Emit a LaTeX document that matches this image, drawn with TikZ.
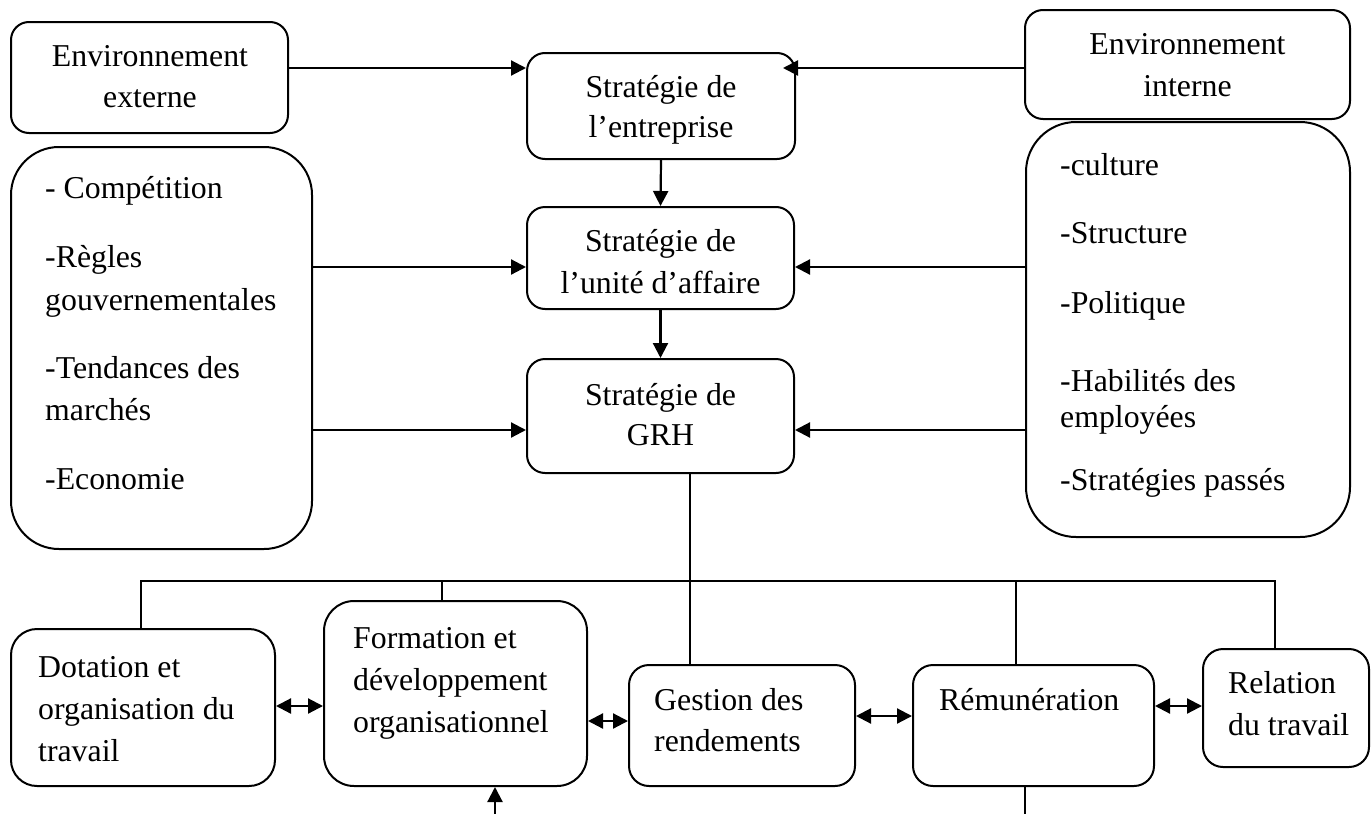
\documentclass[tikz,border=0pt]{standalone}
\usepackage{fontspec}
\setmainfont{Liberation Serif}
\usetikzlibrary{arrows.meta,calc}
\begin{document}
\begin{tikzpicture}[x=1pt,y=-1pt,
  box/.style={draw, line width=2pt, inner sep=0pt, rounded corners=#1},
  box/.default=18pt,
  lbl/.style={inner sep=0pt, font=\fontsize{31.8pt}{41pt}\selectfont},
  lw/.style={lbl, anchor=base west},
  lc/.style={lbl, anchor=base},
  arr/.style={line width=2.2pt, -{Triangle[length=15pt,width=15pt]}},
  link/.style={line width=1.8pt},
  twoway/.style={line width=2.2pt, {Triangle[length=15pt,width=15pt]}-{Triangle[length=15pt,width=15pt]}},
]
\fill[white] (0,0) rectangle (1371,814);
\useasboundingbox (0,0) rectangle (1371,814);

% --- strategy column and its environments
\node[box, minimum width=277pt, minimum height=111pt] (ext) at (149.5,77.5) {};
\node[box, minimum width=268pt, minimum height=106pt] (ent) at (661,106) {};
\node[box, minimum width=325pt, minimum height=109pt] (intEnv) at (1187.5,64.5) {};
\node[box=48pt, minimum width=301pt, minimum height=402pt] (leftList) at (161.5,348) {};
\node[box=50pt, minimum width=324pt, minimum height=415pt] (rightList) at (1188,329.5) {};
\node[box, minimum width=267pt, minimum height=102pt] (unit) at (660.5,258) {};
\node[box, minimum width=267pt, minimum height=114pt] (grh) at (660.5,416) {};

% --- HR activities
\node[box=26pt, minimum width=264pt, minimum height=157pt] (dot) at (143,707.5) {};
\node[box=30pt, minimum width=263pt, minimum height=185pt] (form) at (455.5,693.5) {};
\node[box=20pt, minimum width=226pt, minimum height=121pt] (gest) at (742,725.5) {};
\node[box=20pt, minimum width=241pt, minimum height=121pt] (rem) at (1033.5,725.5) {};
\node[box=20pt, minimum width=166pt, minimum height=118pt] (rel) at (1286,708) {};

% --- labels
\node[lc] (tExtA) at (150,66) {Environnement};
\node[lc] (tExtB) at (150,107) {externe};
\node[lc] (tEntA) at (661,97) {Stratégie de};
\node[lc] (tEntB) at (661,137) {l’entreprise};
\node[lc] (tIntA) at (1187.5,54) {Environnement};
\node[lc] (tIntB) at (1187.5,96) {interne};
\node[lc] (tUnitA) at (660.5,251) {Stratégie de};
\node[lc] (tUnitB) at (660.5,293) {l’unité d’affaire};
\node[lc] (tGrhA) at (660.5,405) {Stratégie de};
\node[lc] (tGrhB) at (660.5,445) {GRH};

\node[lw] (tL1) at (45,198) {- Compétition};
\node[lw] (tL2) at (45,267) {-Règles};
\node[lw] (tL3) at (45,310) {gouvernementales};
\node[lw] (tL4) at (45,378) {-Tendances des};
\node[lw] (tL5) at (45,420) {marchés};
\node[lw] (tL6) at (45,489) {-Economie};

\node[lw] (tR1) at (1060,175) {-culture};
\node[lw] (tR2) at (1060,243) {-Structure};
\node[lw] (tR3) at (1060,313) {-Politique};
\node[lw] (tR4) at (1060,391) {-Habilités des};
\node[lw] (tR5) at (1060,427) {employées};
\node[lw] (tR6) at (1060,490) {-Stratégies passés};

\node[lw] (tDotA) at (38,677) {Dotation et};
\node[lw] (tDotB) at (38,719) {organisation du};
\node[lw] (tDotC) at (38,761) {travail};
\node[lw] (tFormA) at (353,648) {Formation et};
\node[lw] (tFormB) at (353,690) {développement};
\node[lw] (tFormC) at (353,732) {organisationnel};
\node[lw] (tGestA) at (654,710) {Gestion des};
\node[lw] (tGestB) at (654,751) {rendements};
\node[lw] (tRem) at (939,710) {Rémunération};
\node[lw] (tRelA) at (1228,693) {Relation};
\node[lw] (tRelB) at (1228,735) {du travail};

% --- arrows into the strategy column
\coordinate (yA) at (0,68);
\coordinate (yB) at (0,267);
\coordinate (yC) at (0,430);
\draw[arr] (ext.east |- yA) -- (ent.west |- yA);
\draw[arr] (intEnv.west |- yA) -- ($(ent.east |- yA)+(-13,0)$);
\draw[arr] (leftList.east |- yB) -- (unit.west |- yB);
\draw[arr] (rightList.west |- yB) -- (unit.east |- yB);
\draw[arr] (leftList.east |- yC) -- (grh.west |- yC);
\draw[arr] (rightList.west |- yC) -- (grh.east |- yC);
\draw[arr] (ent.south) -- (unit.north);
\draw[arr] (unit.south) -- (grh.north);

% --- distribution tree below the HR strategy
\coordinate (bus) at (0,581);
\coordinate (trunk) at (690,0);
\coordinate (dropA) at (141,0);
\coordinate (dropB) at (442,0);
\coordinate (dropD) at (1016,0);
\coordinate (dropE) at (1275,0);
\draw[link] (trunk |- grh.south) -- (trunk |- gest.north);
\draw[link] (dropA |- dot.north) -- (dropA |- bus) -- (dropE |- bus) -- (dropE |- rel.north);
\draw[link] (dropB |- bus) -- (dropB |- form.north);
\draw[link] (dropD |- bus) -- (dropD |- rem.north);

% --- links between neighbouring activities
\coordinate (yD) at (0,706);
\coordinate (yE) at (0,721);
\coordinate (yF) at (0,716);
\coordinate (yG) at (0,706);
\draw[twoway] (dot.east |- yD) -- (form.west |- yD);
\draw[twoway] (form.east |- yE) -- (gest.west |- yE);
\draw[twoway] (gest.east |- yF) -- (rem.west |- yF);
\draw[twoway] (rem.east |- yG) -- (rel.west |- yG);

% --- loose ends at the bottom edge
\coordinate (footF) at (495,814);
\coordinate (footR) at (1025,814);
\draw[arr] (footF) -- (footF |- form.south);
\draw[link] (footR |- rem.south) -- (footR);
\end{tikzpicture}
\end{document}
